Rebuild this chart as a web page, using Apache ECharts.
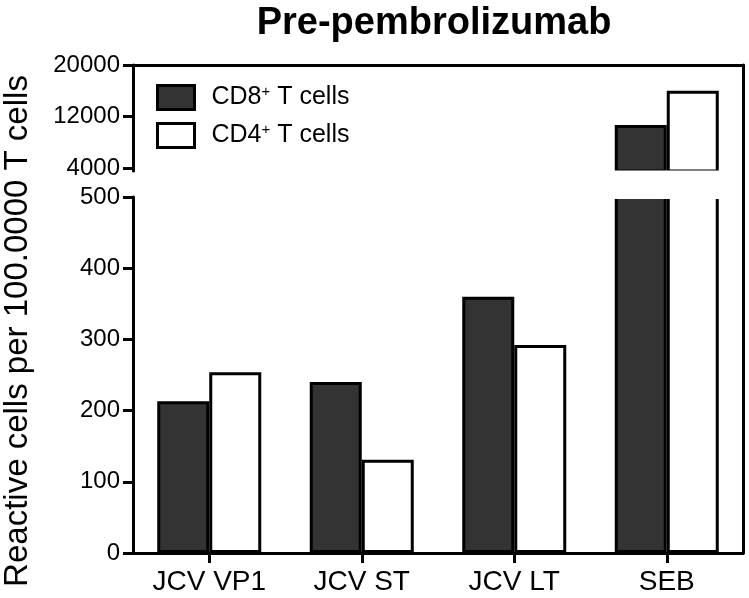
<!DOCTYPE html>
<html>
<head>
<meta charset="utf-8">
<script src="https://cdn.jsdelivr.net/npm/echarts@6/dist/echarts.min.js"></script>
<style>html,body{margin:0;padding:0;background:#fff;}#c{width:749px;height:598px;}</style>
</head>
<body>
<div id="c"></div>
<script>
const categories = ['JCV VP1', 'JCV ST', 'JCV LT', 'SEB'];
const cd8 = [213, 240, 360, 10700];
const cd4 = [254, 131, 292, 16000];
const lowerTicks = [0, 100, 200, 300, 400, 500];
const upperTicks = [4000, 12000, 20000];
const seriesNames = ['CD8+ T cells', 'CD4+ T cells'];
const yAxisTitle = 'Reactive cells per 100.0000 T cells';
const chartTitle = 'Pre-pembrolizumab';

const FONT = '"Liberation Sans", Arial, Helvetica, sans-serif';
const BLACK = '#000000';
const upperOnly = arr => arr.map(v => v > upperTicks[0] ? v : '-');
const barStyle = (color) => ({ color: color, borderColor: BLACK, borderWidth: 3 });
const line3 = () => ({ color: BLACK, width: 3 });

// upper panel: 4000 sits slightly above the bottom of its grid so bars run into the break
const upperMin = upperTicks[0] - 450;

const chart = echarts.init(document.getElementById('c'));
chart.setOption({
  animation: false,
  title: {
    text: chartTitle,
    left: 429, top: 0, textAlign: 'center',
    textStyle: { fontFamily: FONT, fontWeight: 'bold', fontSize: 38, color: BLACK }
  },
  legend: {
    orient: 'vertical', left: 156, top: 84, padding: 0,
    itemWidth: 37, itemHeight: 24, itemGap: 11,
    icon: 'rect',
    data: seriesNames,
    itemStyle: { borderColor: BLACK, borderWidth: 3 },
    formatter: n => n.replace('+', '{sup|+}'),
    textStyle: {
      fontFamily: FONT, fontSize: 25, color: BLACK, padding: [0, 0, 0, 12],
      rich: { sup: { fontFamily: FONT, fontSize: 15, color: BLACK, padding: [0, 0, 12, 0] } }
    }
  },
  graphic: [
    { type: 'rect', z: 50, shape: { x: 135, y: 170.5, width: 606, height: 28.5 }, style: { fill: '#ffffff' }, silent: true },
    { type: 'text', x: 18, y: 331, rotation: Math.PI / 2, z: 60,
      style: { text: yAxisTitle, fontFamily: FONT, fontSize: 33, fill: BLACK, align: 'center', verticalAlign: 'middle' } }
  ],
  grid: [
    { left: 133, right: 6, top: 65, height: 106 },
    { left: 133, right: 6, top: 197, bottom: 45 },
    { left: 133, right: 6, top: 65, bottom: 45 }
  ],
  xAxis: [
    { gridIndex: 0, type: 'category', data: categories, show: false },
    { gridIndex: 1, type: 'category', data: categories,
      axisLine: { show: true, onZero: false, lineStyle: line3() },
      axisTick: { show: true, alignWithLabel: true, length: 10, lineStyle: line3() },
      axisLabel: { fontFamily: FONT, fontSize: 28, color: BLACK, margin: 15 } },
    { gridIndex: 2, type: 'value', position: 'top', min: 0, max: 1,
      axisLine: { show: true, onZero: false, lineStyle: line3() },
      axisTick: { show: false }, axisLabel: { show: false }, splitLine: { show: false } }
  ],
  yAxis: [
    { gridIndex: 0, type: 'value', min: upperMin, max: upperTicks[upperTicks.length - 1],
      axisLine: { show: true, onZero: false, lineStyle: line3() },
      axisTick: { show: true, length: 10, customValues: upperTicks, lineStyle: line3() },
      axisLabel: { fontFamily: FONT, fontSize: 24, color: BLACK, margin: 13, customValues: upperTicks, formatter: v => String(v) },
      splitLine: { show: false } },
    { gridIndex: 1, type: 'value', min: lowerTicks[0], max: lowerTicks[lowerTicks.length - 1], interval: 100,
      axisLine: { show: true, onZero: false, lineStyle: line3() },
      axisTick: { show: true, length: 10, lineStyle: line3() },
      axisLabel: { fontFamily: FONT, fontSize: 24, color: BLACK, margin: 13, formatter: v => String(v) },
      splitLine: { show: false } },
    { gridIndex: 2, type: 'value', position: 'right', min: 0, max: 1,
      axisLine: { show: true, onZero: false, lineStyle: line3() },
      axisTick: { show: false }, axisLabel: { show: false }, splitLine: { show: false } }
  ],
  series: [
    { name: seriesNames[0], type: 'bar', xAxisIndex: 1, yAxisIndex: 1, data: cd8, barWidth: 52, barGap: '0%', itemStyle: barStyle('#333333') },
    { name: seriesNames[1], type: 'bar', xAxisIndex: 1, yAxisIndex: 1, data: cd4, barWidth: 52, barGap: '0%', itemStyle: barStyle('#ffffff') },
    { name: seriesNames[0], type: 'bar', xAxisIndex: 0, yAxisIndex: 0, data: upperOnly(cd8), barWidth: 52, barGap: '0%', itemStyle: barStyle('#333333') },
    { name: seriesNames[1], type: 'bar', xAxisIndex: 0, yAxisIndex: 0, data: upperOnly(cd4), barWidth: 52, barGap: '0%', itemStyle: barStyle('#ffffff') }
  ]
});
</script>
</body>
</html>
